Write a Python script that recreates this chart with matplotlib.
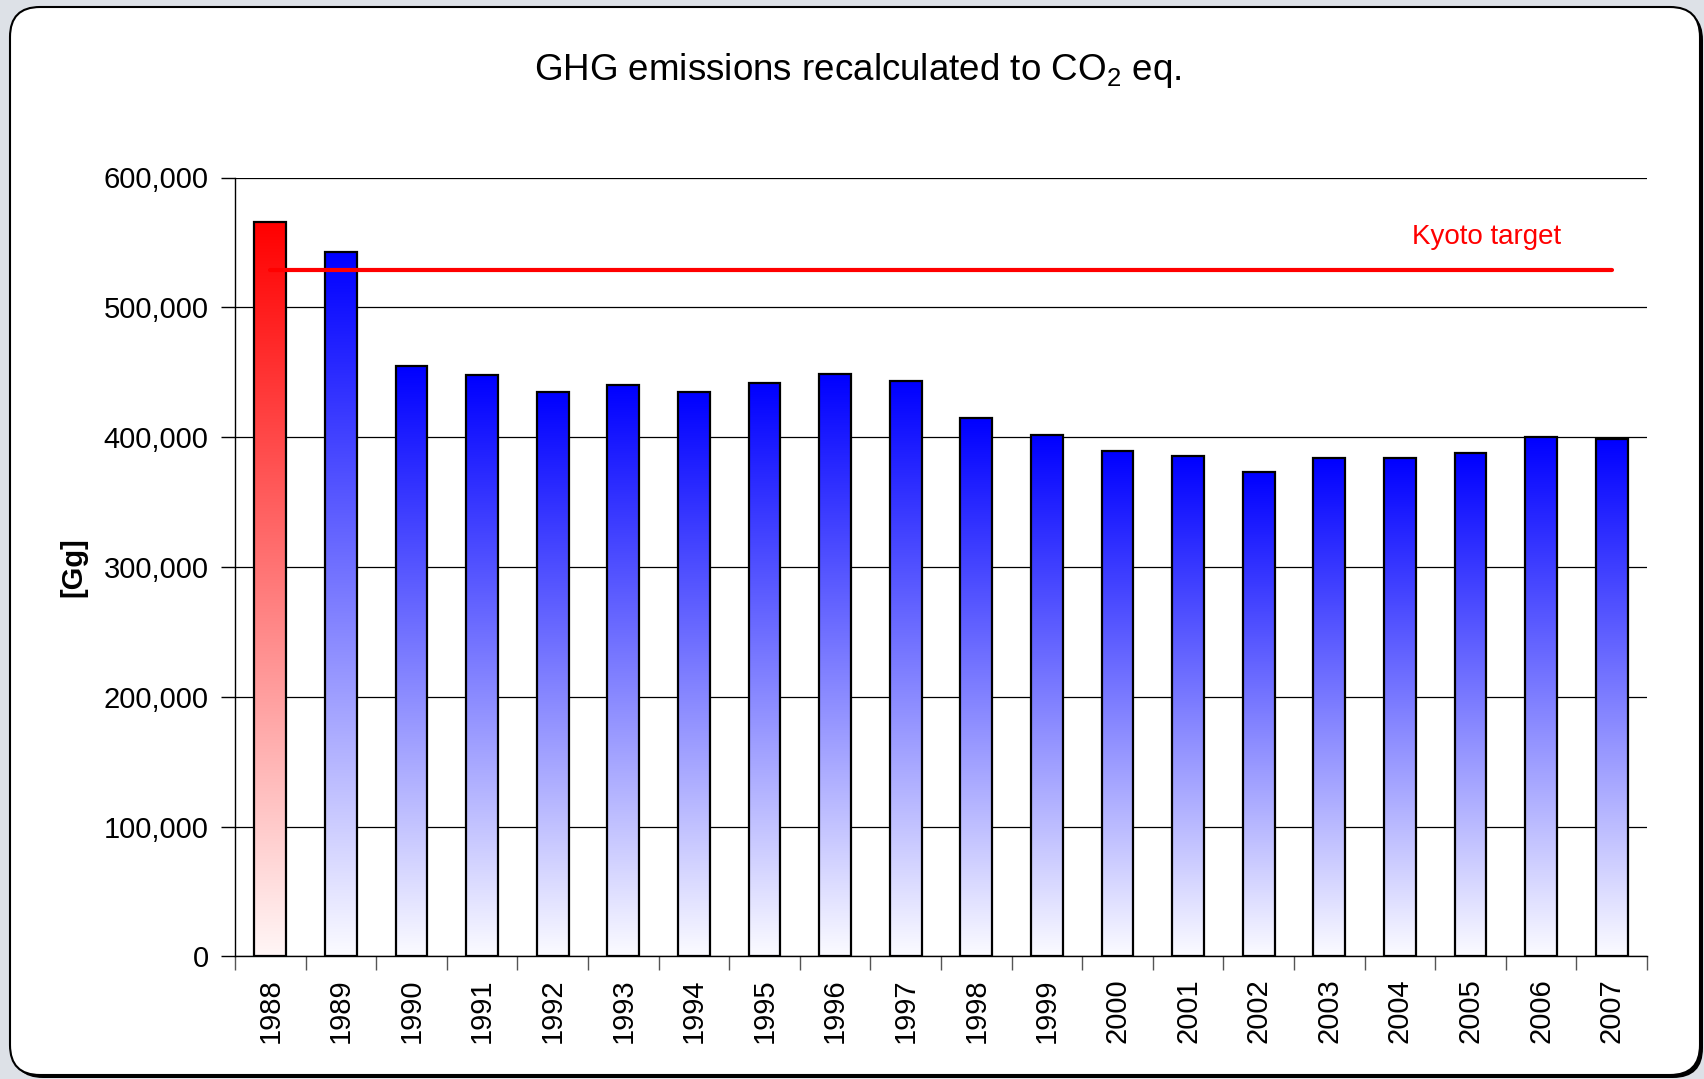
import numpy as np
import matplotlib
matplotlib.use("Agg")
import matplotlib.pyplot as plt
from matplotlib.colors import LinearSegmentedColormap
from matplotlib.patches import FancyBboxPatch
from matplotlib.transforms import IdentityTransform

plt.rcParams['font.family'] = ['Liberation Sans', 'DejaVu Sans']
plt.rcParams['mathtext.fontset'] = 'custom'
plt.rcParams['mathtext.rm'] = 'Liberation Sans'

# data
years = ["1988", "1989", "1990", "1991", "1992", "1993", "1994", "1995", "1996", "1997",
         "1998", "1999", "2000", "2001", "2002", "2003", "2004", "2005", "2006", "2007"]
emissions = [566000, 542500, 455000, 447500, 434500, 440500, 434500, 442000, 448500, 443500,
             415000, 402000, 389500, 385600, 373000, 383800, 383800, 387400, 400300, 398500]
kyoto_target = 529000
yticks = [0, 100000, 200000, 300000, 400000, 500000, 600000]
ytick_labels = ["0", "100,000", "200,000", "300,000", "400,000", "500,000", "600,000"]

W, H = 1704, 1079
fig = plt.figure(figsize=(W / 100, H / 100), dpi=100, facecolor='#dde1e7')

# rounded frame with a shadow, drawn in pixels
shadow = FancyBboxPatch((13, 1), 1690, 1068, boxstyle="round,pad=0,rounding_size=30",
                        transform=IdentityTransform(), facecolor='black', edgecolor='none', zorder=-3)
frame = FancyBboxPatch((10, 4), 1690, 1068, boxstyle="round,pad=0,rounding_size=30",
                       transform=IdentityTransform(), facecolor='white', edgecolor='black',
                       linewidth=1.5, zorder=-2)
fig.add_artist(shadow)
fig.add_artist(frame)

ax = fig.add_axes([235 / W, 1 - 956.3 / H, 1412 / W, 778.8 / H])
ax.set_facecolor('white')

blue_cmap = LinearSegmentedColormap.from_list('blue', ['#fbfbff', '#0000ff'])
red_cmap = LinearSegmentedColormap.from_list('red', ['#fff6f6', '#ff0000'])
grad = np.linspace(0, 1, 256).reshape(-1, 1)

x = np.arange(len(years))
width = 0.45
for i, v in enumerate(emissions):
    cmap = red_cmap if i == 0 else blue_cmap
    ax.imshow(grad, cmap=cmap, origin='lower', aspect='auto', interpolation='bilinear',
              extent=[x[i] - width / 2, x[i] + width / 2, 0, v], zorder=2)
ax.bar(x, emissions, width=width, facecolor='none', edgecolor='black', linewidth=1.6, zorder=3)

ax.plot([x[0], x[-1]], [kyoto_target, kyoto_target], color='#ff0000', linewidth=3, zorder=4,
        solid_capstyle='round')
ax.text(17.23, 554500, "Kyoto target", color='#ff0000', fontsize=20, ha='center', va='center')

ax.set_xlim(-0.5, len(years) - 0.5)
ax.set_ylim(0, 600000)
ax.set_yticks(yticks)
ax.set_yticklabels(ytick_labels, fontsize=21)
ax.yaxis.grid(True, color='black', linewidth=0.9)
ax.set_axisbelow(True)

ax.set_xticks(x)
ax.set_xticklabels(years, rotation=90, fontsize=21)
ax.tick_params(axis='x', which='major', length=0, pad=16)
ax.set_xticks(np.arange(-0.5, len(years), 1), minor=True)
ax.tick_params(axis='x', which='minor', length=10, color='#555555', width=1)
ax.tick_params(axis='y', length=10, width=1, pad=9)

ax.spines['top'].set_visible(False)
ax.spines['right'].set_visible(False)
ax.spines['left'].set_linewidth(1)
ax.spines['bottom'].set_linewidth(1)

fig.text(858 / W, 1 - 71 / H, r"GHG emissions recalculated to CO$_\mathregular{2}$ eq.",
         fontsize=26.5, ha='center', va='center')
fig.text(73 / W, 1 - 567 / H, "[Gg]", fontsize=21, fontweight='bold', rotation=90,
         ha='center', va='center')

fig.savefig('out.png', dpi=100)
